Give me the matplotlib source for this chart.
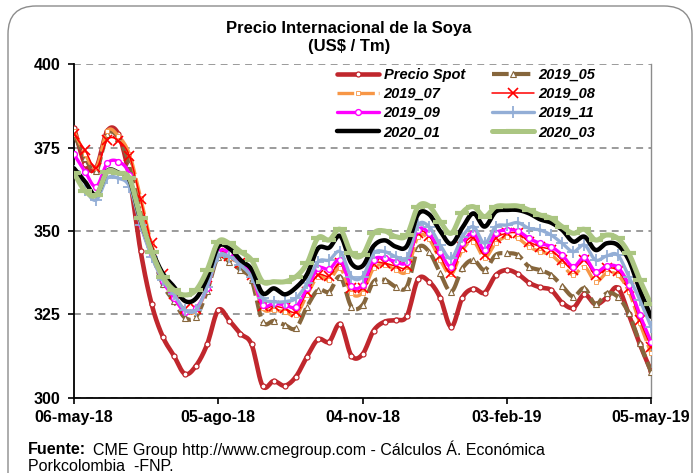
import numpy as np
import pandas as pd
import matplotlib
matplotlib.use("Agg")
import matplotlib.pyplot as plt
import matplotlib.dates as mdates
from matplotlib.patches import FancyBboxPatch

plt.rcParams['font.family'] = ['Liberation Sans', 'DejaVu Sans']

# ---------------- data (weekly, 06-may-18 .. 05-may-19) ----------------
start_date = "2018-05-06"
n_weeks = 53

precio_spot = [381, 370, 369, 380, 379, 366, 344, 328, 318.3, 312.6, 307.1, 309.6, 316,
               326.3, 323.1, 319.2, 316, 303.5, 305, 303.6, 306.3, 312.3, 317.5, 316.8,
               322.1, 312.6, 313, 320.1, 322.8, 323.3, 324.5, 335.5, 334.8, 330, 321.2,
               330, 332.7, 331.5, 336.7, 338.3, 337.1, 334.5, 333.1, 332.3, 328.5, 327,
               331, 328, 330, 333, 325, 316, 308]
s2019_05 = [379, 372, 368, 379, 378, 370, 357, 344, 334, 329, 324, 324.3, 332, 342.3,
            340.8, 338.3, 335.3, 322.8, 323, 321.8, 320.8, 327.3, 332.3, 331.8, 336.3,
            327.3, 327.8, 334.8, 335.3, 333.3, 333.3, 344.8, 343.8, 337.3, 331.8, 338.8,
            341.3, 338.3, 342.8, 343.3, 342.8, 339.3, 338.3, 336.8, 333.5, 330.3, 332.8,
            328, 331.3, 330.3, 325.3, 316.3, 307.8]
s2019_07 = [380, 373, 369, 380, 378.5, 373, 360, 346, 336, 330, 326, 326, 333, 343, 342,
            340, 336.5, 326.8, 326.3, 325.8, 324.8, 330.8, 336.3, 335.3, 338.8, 331.3,
            331.5, 338.8, 339.8, 338.3, 338, 348.3, 347.5, 341.3, 337, 344.3, 346.8, 342,
            346.3, 348.3, 347.8, 345.3, 343.8, 342.8, 339.8, 336.8, 339.3, 334.8, 337.3,
            336.8, 331.8, 322.3, 313.3]
s2019_08 = [379, 374.3, 368.8, 377.3, 377.1, 372.5, 359.5, 346.3, 337, 331, 326.5, 326.5,
            333.5, 343.5, 342.5, 340.5, 336.8, 327.5, 327.5, 326.8, 325.8, 331.8, 336.8,
            336.5, 340.3, 333, 332.8, 340, 340.3, 339.5, 339.5, 349.3, 348.5, 342.5, 337.3,
            345.3, 348, 342.8, 347.8, 349.3, 349.3, 346.8, 345.3, 344.3, 341.3, 338.3,
            341.3, 336.8, 338.8, 338.1, 332.8, 323.3, 315.3]
s2019_09 = [373, 367.8, 363.3, 370.3, 370.8, 366.8, 352, 343, 335, 330, 325.8, 326.8, 333,
            343.5, 343.5, 340.8, 337, 327.8, 328.3, 327.8, 327.3, 332.8, 338.8, 338.5,
            341.3, 333.5, 333.8, 341.3, 341.8, 340.8, 340.8, 350.3, 349.3, 343.8, 339.3,
            346.3, 349.3, 344.3, 349.3, 350.3, 350, 347.8, 346.3, 345.3, 342.8, 339.3,
            342.1, 337.8, 339.5, 339.1, 333.8, 324.8, 316.8]
s2019_11 = [368, 362.3, 359.3, 365.8, 365.8, 363.3, 351.8, 342.3, 335.3, 331, 326.3, 326.3,
            333.3, 342.5, 342.3, 339.8, 336.3, 329.8, 328.8, 328.8, 329.8, 334.3, 340.8,
            341.3, 343.8, 336.3, 336.3, 343.3, 343.8, 342.3, 341.8, 351.8, 351.3, 345.8,
            341.8, 348.3, 351.3, 346.3, 351.3, 351.8, 352.5, 350.8, 350.3, 348.8, 346.3,
            343.8, 345.8, 341.3, 342.5, 342.8, 336.3, 329.3, 321.3]
s2020_01 = [368.8, 364.8, 360.8, 368, 367.5, 365.3, 353.3, 344.3, 337.3, 333.3, 329, 329.8,
            336, 345.3, 344.8, 341.3, 338.5, 331.3, 332.8, 331, 333, 337, 344.8, 345, 348.5,
            340.3, 339.5, 345.5, 347.2, 345.3, 345.5, 355, 355, 350, 346.1, 351, 355.3,
            351.3, 355.8, 356.3, 356.3, 355.3, 353.5, 352.5, 350.3, 346.8, 348.3, 344.3,
            346.3, 345.8, 341.3, 332.3, 324.3]
s2020_03 = [367.3, 362, 360.8, 367.8, 367.3, 365.8, 353.8, 343.8, 336.3, 332.3, 330.8,
            332.3, 338.3, 346.8, 346.3, 343.8, 341.3, 334.8, 334.8, 334.8, 336.3, 340.3, 348,
            347.3, 350.5, 343.3, 342.8, 349.3, 350, 348.3, 348.8, 357.3, 357.5, 352.8, 349.3,
            355.5, 357.3, 354.3, 357.3, 357.5, 357.5, 356.3, 354.8, 353.8, 351.3, 349.3,
            350.5, 347.3, 348.8, 347.8, 343.3, 335.3, 328]

series_labels = ["Precio Spot", "2019_05", "2019_07", "2019_08",
                 "2019_09", "2019_11", "2020_01", "2020_03"]

tick_dates = ["2018-05-06", "2018-08-05", "2018-11-04", "2019-02-03", "2019-05-05"]
tick_labels = ["06-may-18", "05-ago-18", "04-nov-18", "03-feb-19", "05-may-19"]
y_ticks = [300, 325, 350, 375, 400]

# ---------------- helpers ----------------
SUB = 10


def smooth(v, n=SUB):
    """Catmull-Rom curve through the points (Excel-like smoothed line)."""
    v = np.asarray(v, float)
    P = np.concatenate([[2 * v[0] - v[1]], v, [2 * v[-1] - v[-2]]])
    t = np.linspace(0, 1, n, endpoint=False)
    out = []
    for i in range(len(v) - 1):
        p0, p1, p2, p3 = P[i], P[i + 1], P[i + 2], P[i + 3]
        out.append(0.5 * (2 * p1 + (-p0 + p2) * t
                          + (2 * p0 - 5 * p1 + 4 * p2 - p3) * t ** 2
                          + (-p0 + 3 * p1 - 3 * p2 + p3) * t ** 3))
    out.append([v[-1]])
    return np.concatenate(out)


dates = pd.date_range(start_date, periods=n_weeks, freq="7D")
xnum = mdates.date2num(dates.to_pydatetime())
xs = smooth(xnum)

# ---------------- figure ----------------
W, H = 699, 473
fig = plt.figure(figsize=(W / 100, H / 100), dpi=100)

border = FancyBboxPatch((0.08, -0.3), 6.84, 4.97,
                        boxstyle="round,pad=0,rounding_size=0.28",
                        transform=fig.dpi_scale_trans, facecolor="none",
                        edgecolor="#8c8c8c", linewidth=1.0, zorder=-1)
fig.patches.append(border)

ax_l, ax_r, ax_t, ax_b = 74, 651, 64.3, 397.7
ax = fig.add_axes([ax_l / W, 1 - ax_b / H, (ax_r - ax_l) / W, (ax_b - ax_t) / H])
ax.set_facecolor("none")

styles = [
    dict(color="#C0272D", lw=3.3, marker="o", ms=3.6, mfc="white", mec="#C0272D", mew=0.9),
    dict(color="#86663C", lw=3.0, ls=(0, (4.0, 1.2)), marker="^", ms=4.2, mfc="white",
         mec="#86663C", mew=0.8),
    dict(color="#F79646", lw=2.4, ls=(0, (5.0, 1.2)), marker="s", ms=2.6, mfc="white",
         mec="#F79646", mew=0.6),
    dict(color="#FF0000", lw=1.1, marker="x", ms=6.5, mec="#FF0000", mew=1.2),
    dict(color="#FF00FF", lw=2.4, marker="o", ms=4.2, mfc="white", mec="#FF00FF", mew=1.0),
    dict(color="#93AED6", lw=2.4, marker="+", ms=9, mec="#93AED6", mew=1.3),
    dict(color="#000000", lw=3.2),
    dict(color="#ABC682", lw=3.6, marker="_", ms=10, mec="#ABC682", mew=3.0),
]
all_series = [precio_spot, s2019_05, s2019_07, s2019_08,
              s2019_09, s2019_11, s2020_01, s2020_03]

handles = []
for k, (vals, lab, st) in enumerate(zip(all_series, series_labels, styles)):
    st = dict(st)
    ls = st.pop("ls", "-")
    h, = ax.plot(xs, smooth(vals), linestyle=ls, markevery=SUB, label=lab,
                 solid_capstyle="round", dash_capstyle="butt",
                 zorder=3 + k, **st)
    handles.append(h)

# axes formatting
ax.set_xlim(xnum[0], xnum[-1])
ax.set_ylim(300, 400)
ax.set_yticks(y_ticks)
ax.set_xticks(mdates.date2num(pd.to_datetime(tick_dates).to_pydatetime()))
ax.set_xticklabels(tick_labels)
ax.spines["top"].set_visible(False)
ax.spines["right"].set_color("#8c8c8c")
ax.spines["right"].set_linewidth(1.0)
ax.spines["left"].set_linewidth(1.3)
ax.spines["bottom"].set_linewidth(1.3)
ax.yaxis.grid(True, color="#808080", linestyle=(0, (4.5, 3.5)), linewidth=1.1)
ax.set_axisbelow(True)
ax.tick_params(axis="both", direction="out", length=4, width=1.2, labelsize=11.5)
ax.tick_params(axis="y", pad=6)
ax.tick_params(axis="x", pad=5)
for lbl in ax.get_xticklabels() + ax.get_yticklabels():
    lbl.set_fontweight("bold")

# legend (row-wise order in the reference)
order = [0, 2, 4, 6, 1, 3, 5, 7]
leg = ax.legend([handles[i] for i in order], [series_labels[i] for i in order],
                ncol=2, loc="upper left",
                bbox_to_anchor=(326 / W, 1 - 57 / H), bbox_transform=fig.transFigure,
                prop=dict(weight="bold", style="italic", size=10.5),
                handlelength=2.9, handletextpad=0.3, columnspacing=1.85,
                labelspacing=0.35, borderpad=0.25, numpoints=1,
                frameon=False)
leg.set_zorder(20)

# titles
fig.text(349 / W, 1 - 28 / H, "Precio Internacional de la Soya", ha="center",
         va="center", fontsize=12, fontweight="bold")
fig.text(349 / W, 1 - 47 / H, "(US$ / Tm)", ha="center", va="center",
         fontsize=12, fontweight="bold")

# source note
fig.text(28 / W, 1 - 449 / H, "Fuente:", ha="left", va="center", fontsize=11.5,
         fontweight="bold")
fig.text(93 / W, 1 - 449 / H, "CME Group http://www.cmegroup.com - Cálculos Á. Económica",
         ha="left", va="center", fontsize=11.5)
fig.text(28 / W, 1 - 466 / H, "Porkcolombia  -FNP.", ha="left", va="center",
         fontsize=11.5)

fig.savefig("out.png", dpi=100)
